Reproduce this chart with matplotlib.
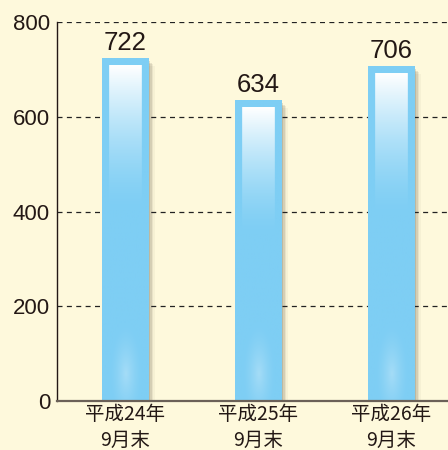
import numpy as np
import matplotlib
matplotlib.use("Agg")
import matplotlib.pyplot as plt

categories = ["平成24年\n9月末", "平成25年\n9月末", "平成26年\n9月末"]
values = [722, 634, 706]
yticks = [0, 200, 400, 600, 800]

BG = "#FEF9DC"
BASE = np.array([0x7E, 0xCE, 0xF4]) / 255.0
TEXT = "#231815"

fig = plt.figure(figsize=(4.48, 4.5), dpi=100, facecolor=BG)
ax = fig.add_axes([57/448, 1-401/450, 1-57/448, (401-22)/450])
ax.set_facecolor(BG)

x = np.arange(len(values))
w = 0.346
xlim = (-0.51, 2.43)
ylim = (0, 800)
ax.set_xlim(*xlim)
ax.set_ylim(*ylim)

px_x = (xlim[1]-xlim[0]) / (448-57)
px_y = (ylim[1]-ylim[0]) / (401-22)

# drop shadows
for k, a in [(1, 0.16), (2.5, 0.14), (4, 0.11), (5.5, 0.07), (7, 0.04)]:
    ax.bar(x + k*px_x, np.array(values) - k*px_y, bottom=0, width=w,
           color="#3a3020", alpha=a, zorder=1, linewidth=0)

ax.bar(x, values, width=w, color=BASE, zorder=2, linewidth=0)

for xi, v in zip(x, values):
    Wp = 46
    Hp = int(round(v / px_y))
    img = np.ones((Hp, Wp, 4))
    img[..., :3] = BASE
    rows = np.arange(Hp)[:, None]
    cols = np.arange(Wp)[None, :]
    inset = 7
    inner = (cols >= inset) & (cols < Wp - inset) & (rows >= inset)
    gl = 0.42 * Hp
    t = np.clip((rows - inset) / gl, 0, 1)
    mix = (1 - t) ** 1.5
    mix = np.broadcast_to(mix, (Hp, Wp))
    white = np.array([1, 1, 1])
    col = BASE[None, None, :] * (1 - mix[..., None]) + white[None, None, :] * mix[..., None]
    img[..., :3] = np.where(inner[..., None], col, img[..., :3])
    cy = Hp - 28
    r = np.sqrt(((cols - Wp/2) / 16.0) ** 2 + ((rows - cy) / 50.0) ** 2)
    g = np.clip(1 - r, 0, 1) ** 1.5 * 0.5
    glow = np.array([0.80, 0.92, 0.98])
    img[..., :3] = img[..., :3] * (1 - g[..., None]) + glow * g[..., None]
    ax.imshow(img, extent=(xi - w/2, xi + w/2, 0, v), aspect="auto",
              interpolation="bilinear", zorder=3)
    ax.text(xi, v + 4*px_y, str(v), ha="center", va="bottom", fontsize=18.5,
            family=["Liberation Sans", "DejaVu Sans"], color=TEXT, zorder=5)

ax.set_xlim(*xlim)
ax.set_ylim(*ylim)

for yv in yticks[1:]:
    ax.axhline(yv, color="#222222", linestyle=(0, (4, 3.5)), linewidth=0.9, zorder=1.5)

ax.set_yticks(yticks)
ax.set_yticklabels([str(t) for t in yticks], fontsize=16,
                   family=["Liberation Sans", "DejaVu Sans"], color=TEXT)
ax.set_xticks(x)
ax.set_xticklabels(categories, fontsize=14,
                   family=["Noto Sans CJK JP", "DejaVu Sans"], color=TEXT,
                   linespacing=1.35)
ax.tick_params(axis="y", length=0, pad=5)
ax.tick_params(axis="x", length=0, pad=2)

for s in ["top", "right"]:
    ax.spines[s].set_visible(False)
ax.spines["left"].set_color("#231815")
ax.spines["left"].set_linewidth(1.0)
ax.spines["bottom"].set_color("#6b6158")
ax.spines["bottom"].set_linewidth(1.6)
ax.spines["left"].set_zorder(6)
ax.spines["bottom"].set_zorder(6)

fig.savefig("out.png", dpi=100, facecolor=BG)
